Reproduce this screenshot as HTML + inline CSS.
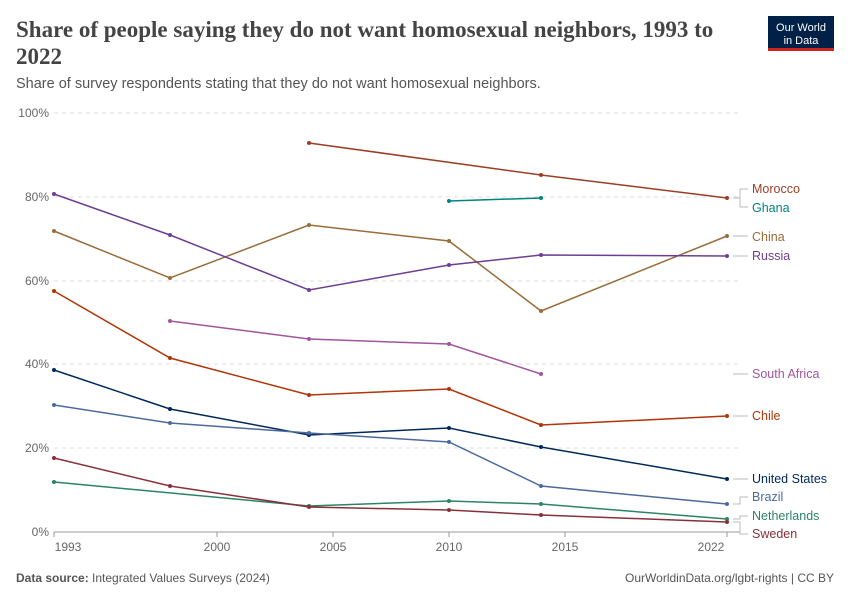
<!DOCTYPE html>
<html><head><meta charset="utf-8"><style>
body{margin:0;background:#fff;font-family:"Liberation Sans",sans-serif;}
svg text{font-family:"Liberation Sans",sans-serif;}
</style></head><body>
<svg width="850" height="600" viewBox="0 0 850 600" xmlns="http://www.w3.org/2000/svg">
<rect width="850" height="600" fill="#fff"/>
<text x="16" y="37" font-size="23" fill="#444" font-weight="bold" style="font-family:'Liberation Serif',serif">Share of people saying they do not want homosexual neighbors, 1993 to</text>
<text x="16" y="64" font-size="23" fill="#444" font-weight="bold" style="font-family:'Liberation Serif',serif">2022</text>
<text x="16" y="88" font-size="14.5" fill="#555">Share of survey respondents stating that they do not want homosexual neighbors.</text>
<rect x="768" y="16" width="66" height="35" fill="#002147"/>
<rect x="768" y="48" width="66" height="3" fill="#ce261e"/>
<text x="801" y="31" font-size="11" fill="#fff" text-anchor="middle">Our World</text>
<text x="801" y="44" font-size="11" fill="#fff" text-anchor="middle">in Data</text>
<g stroke="#ddd" stroke-dasharray="4,4">
<line x1="54" x2="740" y1="113" y2="113"/><line x1="54" x2="740" y1="197" y2="197"/><line x1="54" x2="740" y1="281" y2="281"/><line x1="54" x2="740" y1="364" y2="364"/><line x1="54" x2="740" y1="448" y2="448"/>
</g>
<line x1="54" x2="740" y1="532" y2="532" stroke="#999"/>
<g stroke="#999"><line x1="54" x2="54" y1="532" y2="537"/><line x1="217" x2="217" y1="532" y2="537"/><line x1="333" x2="333" y1="532" y2="537"/><line x1="449" x2="449" y1="532" y2="537"/><line x1="565" x2="565" y1="532" y2="537"/><line x1="727" x2="727" y1="532" y2="537"/></g>
<g font-size="12" fill="#666" text-anchor="end">
<text x="49" y="117">100%</text><text x="49" y="201">80%</text><text x="49" y="285">60%</text><text x="49" y="368">40%</text><text x="49" y="452">20%</text><text x="49" y="536">0%</text>
</g>
<g font-size="12" fill="#666" text-anchor="middle">
<text x="68" y="551">1993</text><text x="217" y="551">2000</text><text x="333" y="551">2005</text><text x="449" y="551">2010</text><text x="565" y="551">2015</text><text x="711" y="551">2022</text>
</g>
<g fill="none" stroke-width="1.5">
<polyline stroke="#9a3e25" points="309,143 541,175 727,198"/>
<polyline stroke="#00847e" points="449,201 541,198"/>
<polyline stroke="#996d39" points="54,231 170,278 309,225 449,241 541,311 727,236"/>
<polyline stroke="#6d3e91" points="54,194 170,235 309,290 449,265 541,255 727,256"/>
<polyline stroke="#a2559c" points="170,321 309,339 449,344 541,374"/>
<polyline stroke="#b13507" points="54,291 170,358 309,395 449,389 541,425 727,416"/>
<polyline stroke="#00295b" points="54,370 170,409 309,435 449,428 541,447 727,479"/>
<polyline stroke="#4c6a9c" points="54,405 170,423 309,433 449,442 541,486 727,504"/>
<polyline stroke="#2c8465" points="54,482 309,506 449,501 541,504 727,519"/>
<polyline stroke="#883039" points="54,458 170,486 309,507 449,510 541,515 727,522"/>
</g>
<g>
<g fill="#9a3e25"><circle cx="309" cy="143" r="2"/><circle cx="541" cy="175" r="2"/><circle cx="727" cy="198" r="2"/></g>
<g fill="#00847e"><circle cx="449" cy="201" r="2"/><circle cx="541" cy="198" r="2"/></g>
<g fill="#996d39"><circle cx="54" cy="231" r="2"/><circle cx="170" cy="278" r="2"/><circle cx="309" cy="225" r="2"/><circle cx="449" cy="241" r="2"/><circle cx="541" cy="311" r="2"/><circle cx="727" cy="236" r="2"/></g>
<g fill="#6d3e91"><circle cx="54" cy="194" r="2"/><circle cx="170" cy="235" r="2"/><circle cx="309" cy="290" r="2"/><circle cx="449" cy="265" r="2"/><circle cx="541" cy="255" r="2"/><circle cx="727" cy="256" r="2"/></g>
<g fill="#a2559c"><circle cx="170" cy="321" r="2"/><circle cx="309" cy="339" r="2"/><circle cx="449" cy="344" r="2"/><circle cx="541" cy="374" r="2"/></g>
<g fill="#b13507"><circle cx="54" cy="291" r="2"/><circle cx="170" cy="358" r="2"/><circle cx="309" cy="395" r="2"/><circle cx="449" cy="389" r="2"/><circle cx="541" cy="425" r="2"/><circle cx="727" cy="416" r="2"/></g>
<g fill="#00295b"><circle cx="54" cy="370" r="2"/><circle cx="170" cy="409" r="2"/><circle cx="309" cy="435" r="2"/><circle cx="449" cy="428" r="2"/><circle cx="541" cy="447" r="2"/><circle cx="727" cy="479" r="2"/></g>
<g fill="#4c6a9c"><circle cx="54" cy="405" r="2"/><circle cx="170" cy="423" r="2"/><circle cx="309" cy="433" r="2"/><circle cx="449" cy="442" r="2"/><circle cx="541" cy="486" r="2"/><circle cx="727" cy="504" r="2"/></g>
<g fill="#2c8465"><circle cx="54" cy="482" r="2"/><circle cx="309" cy="506" r="2"/><circle cx="449" cy="501" r="2"/><circle cx="541" cy="504" r="2"/><circle cx="727" cy="519" r="2"/></g>
<g fill="#883039"><circle cx="54" cy="458" r="2"/><circle cx="170" cy="486" r="2"/><circle cx="309" cy="507" r="2"/><circle cx="449" cy="510" r="2"/><circle cx="541" cy="515" r="2"/><circle cx="727" cy="522" r="2"/></g>
</g>
<g stroke="#bbb" fill="none">
<path d="M733,198 H740 V189 H748 M740,198 V207 H748"/>
<path d="M733,236 H748"/><path d="M733,256 H748"/><path d="M733,374 H748"/><path d="M733,416 H748"/><path d="M733,479 H748"/>
<path d="M733,504 H740 V497 H748"/><path d="M733,519 H740 V516 H748"/><path d="M733,522 H740 V534 H748"/>
</g>
<g font-size="12.5">
<text x="752" y="193" fill="#9a3e25">Morocco</text>
<text x="752" y="212" fill="#00847e">Ghana</text>
<text x="752" y="241" fill="#996d39">China</text>
<text x="752" y="260" fill="#6d3e91">Russia</text>
<text x="752" y="378" fill="#a2559c">South Africa</text>
<text x="752" y="420" fill="#b13507">Chile</text>
<text x="752" y="483" fill="#00295b">United States</text>
<text x="752" y="501" fill="#4c6a9c">Brazil</text>
<text x="752" y="520" fill="#2c8465">Netherlands</text>
<text x="752" y="538" fill="#883039">Sweden</text>
</g>
<text x="16" y="582" font-size="12" fill="#555"><tspan font-weight="bold">Data source:</tspan> Integrated Values Surveys (2024)</text>
<text x="834" y="582" font-size="12" fill="#555" text-anchor="end">OurWorldinData.org/lgbt-rights | CC BY</text>
</svg>
</body></html>
